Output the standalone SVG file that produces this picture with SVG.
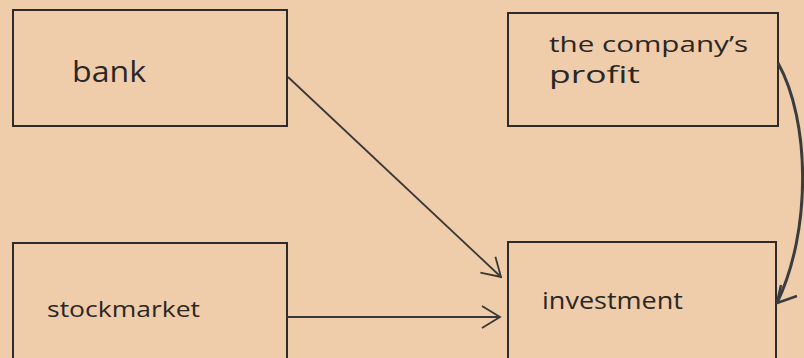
<svg xmlns="http://www.w3.org/2000/svg" width="804" height="358" viewBox="0 0 804 358">
  <defs>
    <style>
      .box { fill: none; stroke: #2e2b28; stroke-width: 2; }
      .lbl { font-family: "Open Sans", "Liberation Sans", sans-serif; fill: #2a2725; }
      .conn { fill: none; stroke: #3a3836; stroke-width: 1.8; }
    </style>
    <marker id="chev" markerUnits="userSpaceOnUse" viewBox="-20 -12 22 24" refX="0" refY="0" markerWidth="22" markerHeight="24" orient="auto">
      <path d="M-18,-11 L0,0 L-18,11" fill="none" stroke="#3a3836" stroke-width="1.8" stroke-linejoin="miter"/>
    </marker>
  </defs>
  <rect x="0" y="0" width="804" height="358" fill="#efcdab"/>

  <g id="node-bank">
    <rect class="box" x="13" y="10" width="274" height="116"/>
    <text class="lbl" x="72" y="82" font-size="29" textLength="74" lengthAdjust="spacingAndGlyphs">bank</text>
  </g>

  <g id="node-profit">
    <rect class="box" x="508" y="13" width="270" height="113"/>
    <text class="lbl" x="549" y="52" font-size="22" textLength="199" lengthAdjust="spacingAndGlyphs">the company’s</text>
    <text class="lbl" x="549" y="83" font-size="23" textLength="91" lengthAdjust="spacingAndGlyphs">profit</text>
  </g>

  <g id="node-stockmarket">
    <rect class="box" x="13" y="243" width="274" height="130"/>
    <text class="lbl" x="47" y="317" font-size="21" textLength="153" lengthAdjust="spacingAndGlyphs">stockmarket</text>
  </g>

  <g id="node-investment">
    <rect class="box" x="508" y="242" width="268" height="130"/>
    <text class="lbl" x="542" y="309" font-size="23" textLength="141" lengthAdjust="spacingAndGlyphs">investment</text>
  </g>

  <g id="connectors">
    <line class="conn" x1="288" y1="77" x2="501" y2="277" marker-end="url(#chev)"/>
    <line class="conn" x1="287" y1="317" x2="500" y2="317" marker-end="url(#chev)"/>
    <path d="M778,63 C810,120 812,230 777,303" fill="none" stroke="#3a3d40" stroke-width="3"/>
    <path d="M797,296 L777,303 L781,285" fill="none" stroke="#3a3d40" stroke-width="2.5"/>
  </g>
</svg>
